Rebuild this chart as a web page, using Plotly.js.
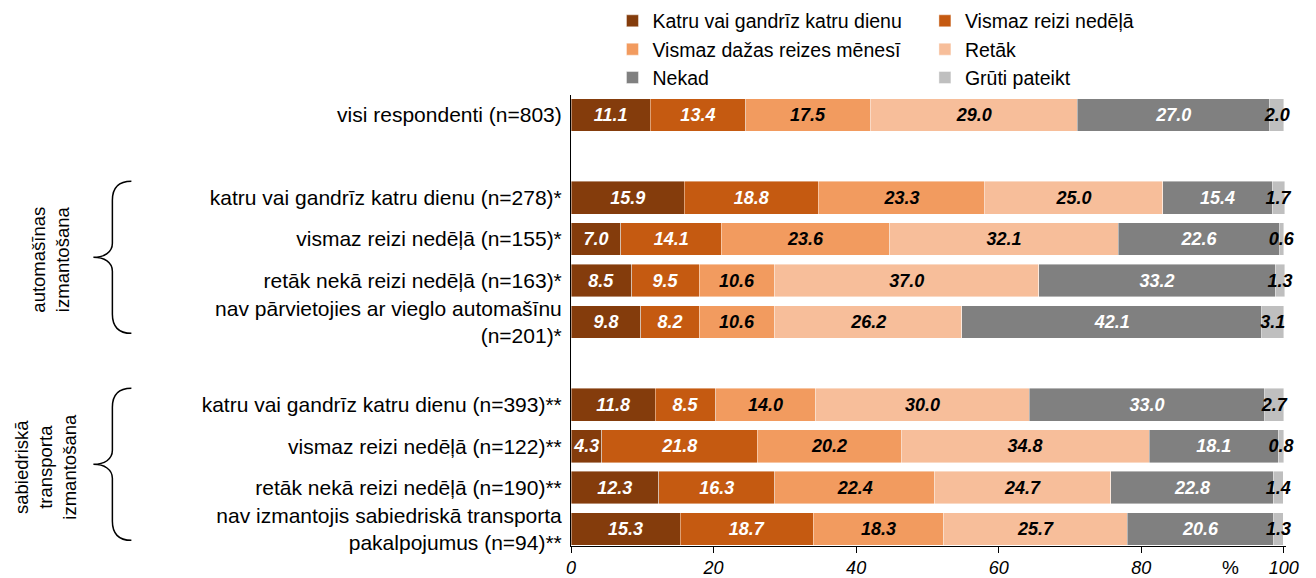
<!DOCTYPE html>
<html>
<head>
<meta charset="utf-8">
<script src="https://cdn.plot.ly/plotly-3.0.1.min.js"></script>
<style>
  html, body { margin: 0; padding: 0; background: #fff; }
  #chart { width: 1316px; height: 578px; }
</style>
</head>
<body>
<div id="chart"></div>
<script>
// ---- data ----
const rowKeys = [
  'visi respondenti (n=803)',
  'katru vai gandrīz katru dienu (n=278)*',
  'vismaz reizi nedēļā (n=155)*',
  'retāk nekā reizi nedēļā (n=163)*',
  'nav pārvietojies ar vieglo automašīnu (n=201)*',
  'katru vai gandrīz katru dienu (n=393)**',
  'vismaz reizi nedēļā (n=122)**',
  'retāk nekā reizi nedēļā (n=190)**',
  'nav izmantojis sabiedriskā transporta pakalpojumus (n=94)**'
];
const rowLabels = [
  'visi respondenti (n=803)',
  'katru vai gandrīz katru dienu (n=278)*',
  'vismaz reizi nedēļā (n=155)*',
  'retāk nekā reizi nedēļā (n=163)*',
  'nav pārvietojies ar vieglo automašīnu<br>(n=201)*',
  'katru vai gandrīz katru dienu (n=393)**',
  'vismaz reizi nedēļā (n=122)**',
  'retāk nekā reizi nedēļā (n=190)**',
  'nav izmantojis sabiedriskā transporta<br>pakalpojumus (n=94)**'
];
const seriesNames = [
  'Katru vai gandrīz katru dienu',
  'Vismaz reizi nedēļā',
  'Vismaz dažas reizes mēnesī',
  'Retāk',
  'Nekad',
  'Grūti pateikt'
];
const katruDienu   = [11.1, 15.9,  7.0,  8.5,  9.8, 11.8,  4.3, 12.3, 15.3];
const reiziNedela  = [13.4, 18.8, 14.1,  9.5,  8.2,  8.5, 21.8, 16.3, 18.7];
const dazasMenesi  = [17.5, 23.3, 23.6, 10.6, 10.6, 14.0, 20.2, 22.4, 18.3];
const retak        = [29.0, 25.0, 32.1, 37.0, 26.2, 30.0, 34.8, 24.7, 25.7];
const nekad        = [27.0, 15.4, 22.6, 33.2, 42.1, 33.0, 18.1, 22.8, 20.6];
const grutiPateikt = [ 2.0,  1.7,  0.6,  1.3,  3.1,  2.7,  0.8,  1.4,  1.3];
const groupLabels = ['automašīnas<br>izmantošana', 'sabiedriskā<br>transporta<br>izmantošana'];
const xTicks = [0, 20, 40, 60, 80, 100];

// ---- styles ----
const colors = ['#843C0C', '#C55A11', '#F29B5F', '#F7BE9A', '#808080', '#BFBFBF'];
const textColors = ['#ffffff', '#ffffff', '#000000', '#000000', '#ffffff', '#000000'];
const legendOf = ['legend', 'legend2', 'legend', 'legend2', 'legend', 'legend2'];
const FONT = '"Liberation Sans", Arial, sans-serif';

// category order with two empty slots
const catOrder = [rowKeys[0], 'gap1', rowKeys[1], rowKeys[2], rowKeys[3], rowKeys[4],
                  'gap2', rowKeys[5], rowKeys[6], rowKeys[7], rowKeys[8]];
const catText = catOrder.map(c => {
  const i = rowKeys.indexOf(c);
  return i >= 0 ? rowLabels[i] : '';
});

const allSeries = [katruDienu, reiziNedela, dazasMenesi, retak, nekad, grutiPateikt];
const traces = allSeries.map((vals, k) => ({
  type: 'bar',
  orientation: 'h',
  name: seriesNames[k],
  y: rowKeys,
  x: vals,
  text: vals.map(v => v.toFixed(1)),
  textposition: 'inside',
  insidetextanchor: 'middle',
  constraintext: 'none',
  textangle: 0,
  cliponaxis: false,
  textfont: { family: FONT, size: 18, color: textColors[k], weight: 'bold', style: 'italic' },
  marker: { color: colors[k], line: { color: 'rgba(255,255,255,0.6)', width: 0.7 } },
  legend: legendOf[k],
  legendgroup: 'g' + k,
  hoverinfo: 'skip'
}));

function brace(tipXpaper, yPaper) {
  return {
    type: 'path',
    xref: 'paper', yref: 'paper',
    xsizemode: 'pixel', ysizemode: 'pixel',
    xanchor: tipXpaper, yanchor: yPaper,
    path: 'M 38,-76 C 25,-76 19,-69 19,-57 L 19,-14 C 19,-5 11,0 0,0 ' +
          'C 11,0 19,5 19,14 L 19,57 C 19,69 25,76 38,76',
    line: { color: '#000', width: 1.5 }
  };
}

const legendCommon = {
  orientation: 'v',
  xanchor: 'left', yanchor: 'top',
  font: { family: FONT, size: 19.5, color: '#000' },
  bgcolor: 'rgba(0,0,0,0)',
  tracegroupgap: 0,
  itemclick: false, itemdoubleclick: false
};

const layout = {
  width: 1316, height: 578,
  margin: { l: 571, r: 30, t: 95, b: 32, autoexpand: false },
  paper_bgcolor: '#fff', plot_bgcolor: '#fff',
  font: { family: FONT, size: 19, color: '#000' },
  barmode: 'stack',
  bargap: 0.21,
  showlegend: true,
  legend: Object.assign({}, legendCommon, { x: 0.058, y: 1.207 }),
  legend2: Object.assign({}, legendCommon, { x: 0.495, y: 1.207 }),
  xaxis: {
    range: [0, 100.3],
    tickmode: 'array', tickvals: xTicks,
    ticks: 'outside', ticklen: 6, tickcolor: '#000', tickwidth: 1,
    showline: true, linecolor: '#000', linewidth: 1,
    showgrid: false, zeroline: false,
    ticklabelstandoff: -1,
    tickfont: { family: FONT, size: 18, color: '#000', style: 'italic' },
    fixedrange: true
  },
  yaxis: {
    type: 'category',
    categoryorder: 'array', categoryarray: catOrder,
    tickmode: 'array', tickvals: catOrder, ticktext: catText,
    range: [10.41, -0.48],
    showline: true, linecolor: '#000', linewidth: 1,
    showgrid: false, zeroline: false, ticks: '',
    ticklabelstandoff: 4,
    tickfont: { family: FONT, size: 21, color: '#000' },
    fixedrange: true
  },
  shapes: [
    brace(-0.668, 0.640),
    brace(-0.668, 0.181)
  ],
  annotations: [
    { text: groupLabels[0], xref: 'paper', yref: 'paper', x: -0.728, y: 0.636,
      textangle: -90, showarrow: false, xanchor: 'center', yanchor: 'middle',
      font: { family: FONT, size: 18.5, color: '#000' } },
    { text: groupLabels[1], xref: 'paper', yref: 'paper', x: -0.735, y: 0.177,
      textangle: -90, showarrow: false, xanchor: 'center', yanchor: 'middle',
      font: { family: FONT, size: 18.5, color: '#000' } },
    { text: '%', xref: 'paper', yref: 'paper', x: 0.922, y: -0.047,
      showarrow: false, xanchor: 'center', yanchor: 'middle',
      font: { family: FONT, size: 19, color: '#000' } }
  ]
};

Plotly.newPlot('chart', traces, layout, { displayModeBar: false, staticPlot: true });
</script>
</body>
</html>
